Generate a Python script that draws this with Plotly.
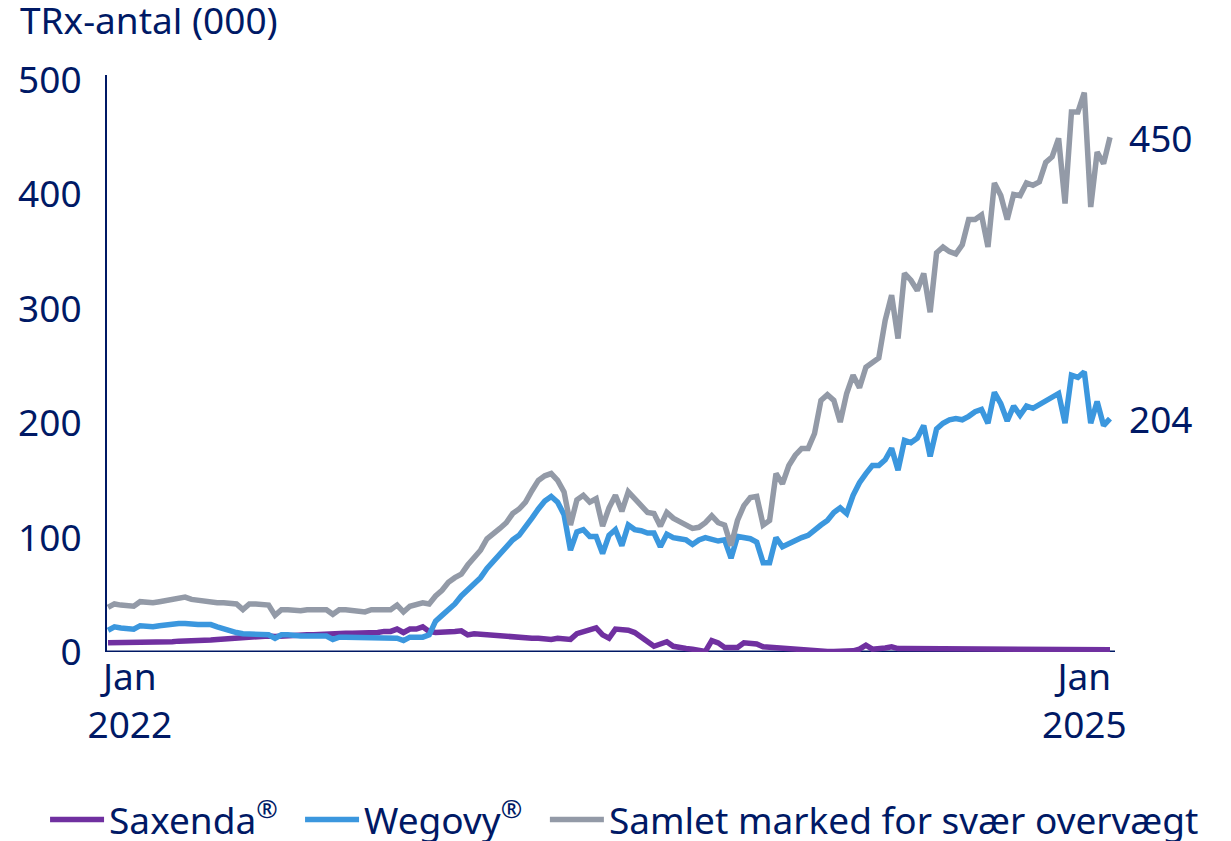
import plotly.graph_objects as go

# Weekly TRx counts (000), Jan 2022 – Feb 2025
weeks = list(range(157))

saxenda = [8, 8, 8, 8, 8, 8, 8.5, 8.5, 9, 9,
           9, 9.5, 9.5, 10, 10, 10, 10.5, 11, 11.5, 12,
           12.5, 13, 13, 13.5, 14, 14, 13.5, 14, 14, 14,
           14.5, 15, 15, 15.5, 16, 16, 16.5, 16.5, 16.5, 16.5,
           17, 17, 17, 18, 18, 20, 17, 20, 20, 22,
           18, 17, 17, 18, 18, 18.5, 15, 16, 15.5, 15,
           14, 13.5, 13.5, 13, 13, 12.5, 12, 12, 11.5, 11,
           12, 12, 11, 16, 18, 20, 21, 15, 12, 20,
           19.5, 19, 17, 13, 8, 5, 7, 9, 5, 3.5,
           3, 2.5, 1, 0.5, 10, 8, 4, 3.5, 4, 8,
           8, 7, 4.5, 4, 3.5, 3, 2.5, 2, 1.5, 1,
           1, 0.5, 0.5, 0.5, 0.5, 0.5, 1, 2.5, 6, 2.5,
           2.5, 3.5, 4.5, 3, 3, 3, 3, 3, 3, 2.5,
           2.5, 3, 2.5, 2.5, 2.5, 2.5, 2.5, 2.5, 2.5, 2.5,
           2.5, 2.5, 2.5, 2.5, 2.5, 2.5, 2, 2, 2, 2,
           2, 2, 2, 2, 2, 2, 2]

wegovy = [19, 22, 21, 20, 20, 23, 22, 22, 23, 24,
          24, 25, 25, 24, 24, 24, 24, 22, 20, 19,
          17, 16, 16, 16, 16, 15, 12, 15, 15, 14,
          14, 14, 14, 14, 14, 11, 13, 13, 13, 13,
          13, 13, 13, 13, 12, 12, 10, 13, 13, 13,
          15, 27, 32, 37, 42, 49, 54, 59, 65, 73,
          79, 85, 91, 98, 102, 109, 117, 125, 132, 136,
          131, 120, 89, 105, 107, 101, 101, 86, 102, 107,
          93, 111, 107, 106, 104, 104, 92, 103, 100, 99,
          98, 94, 98, 100, 98, 97, 98, 82, 101, 100,
          99, 96, 78, 78, 100, 92, 95, 98, 100, 102,
          107, 111, 115, 122, 126, 121, 137, 148, 156, 163,
          163, 168, 178, 159, 185, 183, 187, 198, 171, 195,
          200, 203, 204, 203, 206, 210, 212, 200, 227, 217,
          202, 215, 207, 215, 213, 216, 219, 223, 226, 200,
          242, 240, 245, 200, 219, 198, 204]

samlet = [39, 42, 41, 40, 40, 44, 43, 43, 44, 45,
          46, 47, 48, 46, 45, 45, 44, 43, 43, 43,
          42, 37, 42, 42, 42, 41, 32, 37, 37, 36,
          36, 37, 37, 37, 37, 33, 37, 37, 36, 35,
          35, 37, 37, 37, 37, 41, 35, 40, 42, 43,
          42, 49, 54, 61, 65, 68, 76, 82, 89, 99,
          103, 108, 113, 121, 125, 131, 141, 150, 154, 156,
          150, 140, 111, 133, 137, 131, 134, 110, 126, 137,
          123, 140, 134, 128, 122, 121, 110, 122, 117, 114,
          111, 108, 109, 113, 119, 113, 111, 93, 115, 128,
          135, 136, 111, 115, 156, 147, 163, 172, 178, 178,
          191, 220, 225, 220, 201, 226, 242, 231, 249, 253,
          257, 290, 312, 274, 331, 325, 316, 331, 297, 349,
          354, 350, 348, 356, 378, 378, 382, 354, 410, 399,
          378, 400, 399, 410, 408, 411, 428, 433, 449, 392,
          472, 472, 489, 389, 437, 427, 450]

tick_vals = [3.4, 152]
tick_text = ["Jan<br>2022", "Jan<br>2025"]
y_ticks = [0, 100, 200, 300, 400, 500]

NAVY = "#001965"
FONT = "Noto Sans"
FS = 37

fig = go.Figure()
series = [
    ("Saxenda<sup>®</sup>", saxenda, "#7030A0", "legend"),
    ("Wegovy<sup>®</sup>", wegovy, "#3B97DE", "legend2"),
    ("Samlet marked for svær overvægt", samlet, "#939AA7", "legend3"),
]
for name, vals, col, lg in series:
    fig.add_trace(go.Scatter(x=weeks, y=vals, mode="lines", name=name,
                             legend=lg, line=dict(color=col, width=5.5)))

# end labels
for vals in (samlet, wegovy):
    fig.add_annotation(x=weeks[-1], y=vals[-1], text=f"{vals[-1]:.0f}",
                       showarrow=False, xanchor="left", yanchor="middle",
                       xshift=17, font=dict(size=FS, color=NAVY, family=FONT))

fig.add_annotation(xref="paper", yref="paper", x=-0.0883, y=1.097,
                   text="TRx-antal (000)", showarrow=False, xanchor="left",
                   yanchor="middle", font=dict(size=FS, color=NAVY, family=FONT))

legend_style = dict(orientation="h", xref="container", yref="container",
                    y=0.0252, xanchor="left", yanchor="middle",
                    font=dict(size=FS, color=NAVY, family=FONT),
                    itemwidth=54, bgcolor="rgba(0,0,0,0)")

fig.update_layout(
    width=1223, height=833,
    margin=dict(l=99, r=116, t=67, b=189, autoexpand=False),
    plot_bgcolor="white", paper_bgcolor="white",
    font=dict(family=FONT, color=NAVY, size=FS),
    showlegend=True,
    legend=dict(x=0.0303, **legend_style),
    legend2=dict(x=0.2388, **legend_style),
    legend3=dict(x=0.439, **legend_style),
    xaxis=dict(range=[-0.16, 156.78], tickvals=tick_vals, ticktext=tick_text,
               showgrid=False, zeroline=False, showline=False, ticks="",
               automargin=False,
               tickfont=dict(size=FS, color=NAVY, family=FONT)),
    yaxis=dict(range=[0, 504.4], tickvals=y_ticks, showgrid=False,
               zeroline=False, showline=True, linecolor=NAVY, linewidth=2,
               ticks="", ticklabelstandoff=16, automargin=False,
               tickfont=dict(size=FS, color=NAVY, family=FONT)),
)
# baseline of x axis
fig.add_shape(type="line", xref="paper", yref="y", x0=0, x1=1, y0=0, y1=0,
              line=dict(color=NAVY, width=3), layer="below")

fig.write_html("out.html")
